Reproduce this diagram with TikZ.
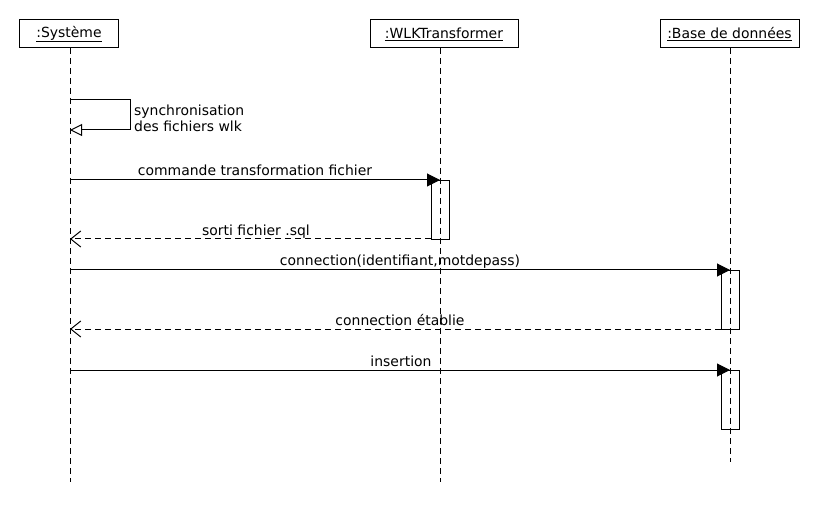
\documentclass[tikz,border=0pt]{standalone}
\usepackage{fontspec}
\setmainfont{DejaVu Sans}
\usetikzlibrary{arrows.meta}
\begin{document}
\begin{tikzpicture}[x=1bp,y=-1bp,
  font=\fontsize{14}{16}\selectfont,
  every node/.style={inner sep=0pt},
  objbox/.style={draw, line width=1bp, minimum height=28bp, inner xsep=0pt},
  lifeline/.style={line width=1bp, dash pattern=on 6bp off 4bp},
  actbox/.style={draw, line width=1bp, fill=white},
  callmsg/.style={line width=1bp, -{Triangle[length=13bp,width=13bp]}},
  retmsg/.style={line width=1bp, dash pattern=on 6bp off 4bp, -{Straight Barb[length=10bp,width=16bp,line width=1bp]}},
  selfmsg/.style={line width=1bp, -{Triangle[open,length=12bp,width=12bp,line width=1bp]}},
  msglabel/.style={anchor=base}
]
\useasboundingbox (0,0) rectangle (820,520);
\fill[white] (0,0) rectangle (820,520);

% objects
\node[objbox, minimum width=98bp] (sys) at (69,34) {\underline{:Système}};
\node[objbox, minimum width=148bp] (wlk) at (444,34) {\underline{:WLKTransformer}};
\node[objbox, minimum width=139bp] (bdd) at (729.5,34) {\underline{:Base de données}};

% lifeline coordinates
\coordinate (sysL) at (70,48);
\coordinate (sysE) at (70,482);
\coordinate (wlkL) at (440,48);
\coordinate (wlkE) at (440,482);
\coordinate (bddL) at (730,48);
\coordinate (bddE) at (730,462);

% activation boxes
\node[actbox, minimum width=18bp, minimum height=59bp, anchor=north west] (act1) at (431,180) {};
\node[actbox, minimum width=18bp, minimum height=59bp, anchor=north west] (act2) at (721,270) {};
\node[actbox, minimum width=18bp, minimum height=59bp, anchor=north west] (act3) at (721,370) {};

\draw[lifeline] (sysL) -- (sysE);
\draw[lifeline] (wlkL) -- (wlkE);
\draw[lifeline] (bddL) -- (bddE);

% self message
\coordinate (s1) at (70,100);
\coordinate (s2) at (130,100);
\coordinate (s3) at (130,130);
\coordinate (s4) at (70,130);
\draw[selfmsg] (s1) -- (s2) -- (s3) -- (s4);
\node[anchor=north west, align=left] (selflbl) at (134,105) {synchronisation\\des fichiers wlk};

% message 1
\coordinate (m1a) at (70,180);
\coordinate (m1b) at (440,180);
\draw[callmsg] (m1a) -- (m1b);
\node[msglabel] (l1) at (255,176) {commande transformation fichier};

% return 1
\coordinate (r1a) at (431,239);
\coordinate (r1b) at (70,239);
\draw[retmsg] (r1a) -- (r1b);
\node[msglabel] (l2) at (256,236) {sorti fichier .sql};

% message 2
\coordinate (m2a) at (70,270);
\coordinate (m2b) at (730,270);
\draw[callmsg] (m2a) -- (m2b);
\node[msglabel] (l3) at (400,266) {connection(identifiant,motdepass)};

% return 2
\coordinate (r2a) at (721,329);
\coordinate (r2b) at (70,329);
\draw[retmsg] (r2a) -- (r2b);
\node[msglabel] (l4) at (400,326) {connection établie};

% message 3
\coordinate (m3a) at (70,370);
\coordinate (m3b) at (730,370);
\draw[callmsg] (m3a) -- (m3b);
\node[msglabel] (l5) at (401,366) {insertion};
\end{tikzpicture}
\end{document}
